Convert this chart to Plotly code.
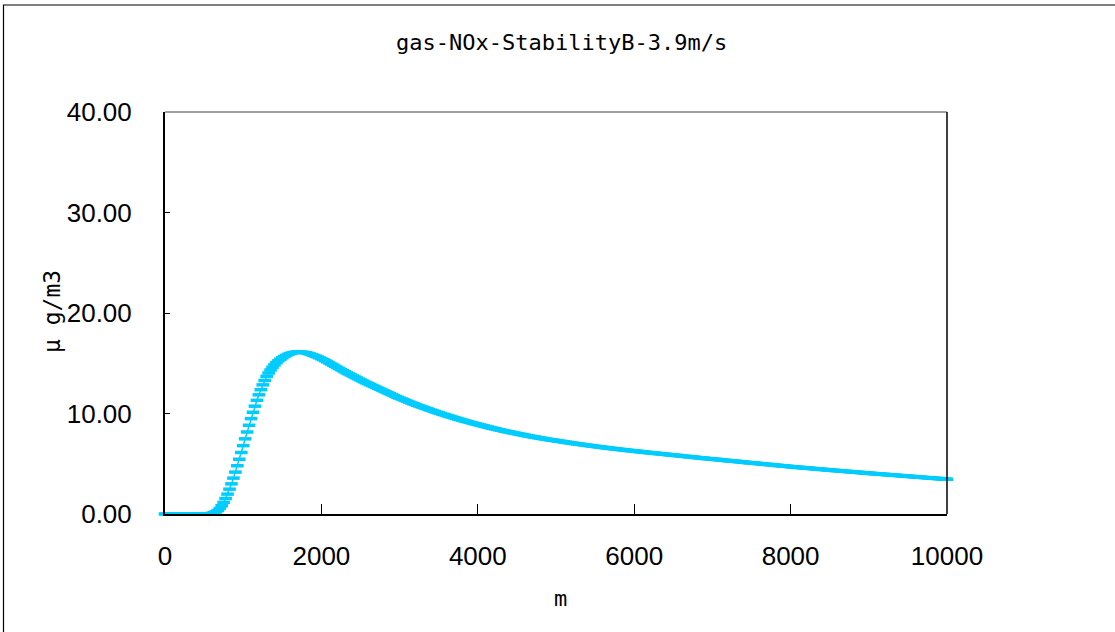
import numpy as np
import plotly.graph_objects as go

# Downwind distance (m), 25 m receptor spacing
distance_m = np.arange(0, 10101, 25)

# Ground-level NOx concentration (μg/m3) at each receptor
conc = [
    # 0 - 475
    0.00, 0.00, 0.00, 0.00, 0.00, 0.00, 0.00, 0.00, 0.00, 0.00,
    0.00, 0.00, 0.00, 0.00, 0.00, 0.00, 0.00, 0.00, 0.00, 0.00,
    # 500 - 975
    0.00, 0.00, 0.01, 0.03, 0.06, 0.12, 0.21, 0.35, 0.55, 0.82,
    1.15, 1.54, 1.98, 2.47, 3.00, 3.57, 4.17, 4.80, 5.45, 6.12,
    # 1000 - 1475
    6.80, 7.48, 8.16, 8.83, 9.49, 10.12, 10.73, 11.31, 11.86, 12.37,
    12.85, 13.29, 13.70, 14.03, 14.33, 14.60, 14.84, 15.05, 15.24, 15.40,
    # 1500 - 1975
    15.54, 15.67, 15.78, 15.88, 15.96, 16.02, 16.07, 16.10, 16.12, 16.12,
    16.10, 16.08, 16.04, 15.99, 15.93, 15.86, 15.79, 15.71, 15.63, 15.54,
    # 2000 - 2475
    15.45, 15.35, 15.25, 15.14, 15.03, 14.92, 14.81, 14.70, 14.59, 14.48,
    14.37, 14.26, 14.15, 14.04, 13.94, 13.84, 13.74, 13.64, 13.54, 13.44,
    # 2500 - 2975
    13.34, 13.24, 13.14, 13.05, 12.96, 12.87, 12.78, 12.69, 12.60, 12.51,
    12.42, 12.33, 12.24, 12.15, 12.06, 11.97, 11.88, 11.79, 11.70, 11.61,
    # 3000 - 3475
    11.53, 11.45, 11.37, 11.29, 11.21, 11.13, 11.05, 10.97, 10.90, 10.82,
    10.75, 10.68, 10.61, 10.54, 10.47, 10.40, 10.33, 10.26, 10.19, 10.13,
    # 3500 - 3975
    10.06, 10.00, 9.93, 9.87, 9.81, 9.75, 9.69, 9.63, 9.57, 9.51,
    9.45, 9.39, 9.34, 9.28, 9.23, 9.17, 9.12, 9.07, 9.01, 8.96,
    # 4000 - 4475
    8.91, 8.86, 8.81, 8.76, 8.71, 8.66, 8.61, 8.56, 8.51, 8.47,
    8.42, 8.38, 8.33, 8.29, 8.24, 8.20, 8.16, 8.12, 8.08, 8.04,
    # 4500 - 4975
    8.00, 7.96, 7.92, 7.88, 7.84, 7.80, 7.77, 7.73, 7.69, 7.66,
    7.62, 7.59, 7.55, 7.52, 7.49, 7.45, 7.42, 7.39, 7.36, 7.33,
    # 5000 - 5475
    7.30, 7.27, 7.24, 7.21, 7.18, 7.15, 7.12, 7.09, 7.06, 7.03,
    7.00, 6.97, 6.95, 6.92, 6.89, 6.86, 6.84, 6.81, 6.78, 6.76,
    # 5500 - 5975
    6.73, 6.71, 6.68, 6.66, 6.63, 6.61, 6.58, 6.56, 6.53, 6.51,
    6.49, 6.46, 6.44, 6.42, 6.40, 6.37, 6.35, 6.33, 6.31, 6.29,
    # 6000 - 6475
    6.27, 6.25, 6.23, 6.20, 6.18, 6.16, 6.14, 6.12, 6.10, 6.08,
    6.06, 6.04, 6.02, 6.00, 5.98, 5.96, 5.94, 5.92, 5.90, 5.88,
    # 6500 - 6975
    5.86, 5.84, 5.82, 5.80, 5.78, 5.76, 5.74, 5.72, 5.70, 5.68,
    5.66, 5.64, 5.62, 5.60, 5.58, 5.56, 5.54, 5.52, 5.50, 5.49,
    # 7000 - 7475
    5.47, 5.45, 5.43, 5.41, 5.39, 5.37, 5.35, 5.33, 5.31, 5.29,
    5.28, 5.26, 5.24, 5.22, 5.20, 5.18, 5.16, 5.14, 5.12, 5.10,
    # 7500 - 7975
    5.09, 5.07, 5.05, 5.03, 5.01, 4.99, 4.97, 4.95, 4.94, 4.92,
    4.90, 4.88, 4.86, 4.84, 4.82, 4.81, 4.79, 4.77, 4.75, 4.73,
    # 8000 - 8475
    4.71, 4.69, 4.68, 4.66, 4.64, 4.63, 4.61, 4.59, 4.58, 4.56,
    4.54, 4.53, 4.51, 4.49, 4.48, 4.46, 4.44, 4.43, 4.41, 4.39,
    # 8500 - 8975
    4.38, 4.36, 4.34, 4.33, 4.31, 4.30, 4.28, 4.26, 4.25, 4.23,
    4.22, 4.20, 4.18, 4.17, 4.15, 4.14, 4.12, 4.11, 4.09, 4.07,
    # 9000 - 9475
    4.06, 4.04, 4.03, 4.01, 4.00, 3.98, 3.97, 3.95, 3.94, 3.92,
    3.91, 3.89, 3.88, 3.86, 3.85, 3.83, 3.82, 3.80, 3.79, 3.77,
    # 9500 - 9975
    3.76, 3.74, 3.73, 3.71, 3.70, 3.68, 3.67, 3.65, 3.64, 3.62,
    3.61, 3.59, 3.58, 3.56, 3.55, 3.53, 3.52, 3.50, 3.49, 3.47,
    # 10000 - 10100
    3.46, 3.44, 3.43, 3.42, 3.40,
]

title_text = "gas-NOx-StabilityB-3.9m/s"
x_title = "m"
y_title = "μ g/m3"
x_ticks = [0, 2000, 4000, 6000, 8000, 10000]
y_ticks = [0, 10, 20, 30, 40]

W, H = 1115, 632
L, R, T, B = 165, 168, 112, 118
PW, PH = W - L - R, H - T - B


def px(xp):
    return (xp - L) / PW


def py(yp):
    return (H - B - yp) / PH


series_color = "#00CCFF"
tick_font = dict(family="Liberation Sans, Arial, sans-serif", size=26, color="#000")
mono_font = "DejaVu Sans Mono, monospace"

fig = go.Figure()
fig.add_trace(go.Scatter(
    x=distance_m, y=conc,
    mode="lines+markers",
    line=dict(color=series_color, width=1.5),
    marker=dict(symbol="line-ew", size=9, color=series_color,
                line=dict(color=series_color, width=3.5)),
    cliponaxis=False,
    showlegend=False,
    hoverinfo="x+y",
))

fig.update_layout(
    width=W, height=H,
    margin=dict(l=L, r=R, t=T, b=B, autoexpand=False),
    paper_bgcolor="white", plot_bgcolor="white",
    xaxis=dict(
        range=[0, 10000], tickvals=x_ticks, ticktext=[str(v) for v in x_ticks],
        ticks="inside", ticklen=10, tickwidth=1.2, tickcolor="#000",
        showline=True, linecolor="#000", linewidth=2,
        showgrid=False, zeroline=False, tickfont=tick_font,
        ticklabelstandoff=18,
    ),
    yaxis=dict(
        range=[0, 40], tickvals=y_ticks, tickformat=".2f",
        ticks="inside", ticklen=5, tickwidth=1.2, tickcolor="#000",
        showline=True, linecolor="#000", linewidth=2,
        showgrid=False, zeroline=False, tickfont=tick_font,
        ticklabelstandoff=26,
    ),
    shapes=[
        # plot-area frame: grey top edge, black right edge
        dict(type="line", xref="paper", yref="paper", x0=0, x1=1, y0=1, y1=1,
             line=dict(color="#808080", width=1.5), layer="above"),
        dict(type="line", xref="paper", yref="paper", x0=1, x1=1, y0=0, y1=1,
             line=dict(color="#000", width=1.5), layer="above"),
        # chart-area border
        dict(type="rect", xref="paper", yref="paper",
             x0=px(3.5), x1=px(1130), y0=py(650), y1=py(5),
             line=dict(color="#000", width=1.2), fillcolor="rgba(0,0,0,0)",
             layer="below"),
    ],
    annotations=[
        dict(text=title_text, xref="paper", yref="paper", x=px(561), y=py(42),
             showarrow=False, xanchor="center", yanchor="middle",
             font=dict(family=mono_font, size=22, color="#000")),
        dict(text=x_title, xref="paper", yref="paper", x=px(560), y=py(598),
             showarrow=False, xanchor="center", yanchor="middle",
             font=dict(family=mono_font, size=22, color="#000")),
        dict(text=y_title, xref="paper", yref="paper", x=px(52), y=py(312),
             showarrow=False, xanchor="center", yanchor="middle", textangle=-90,
             font=dict(family=mono_font, size=23, color="#000")),
    ],
)

fig.write_html("out.html")
